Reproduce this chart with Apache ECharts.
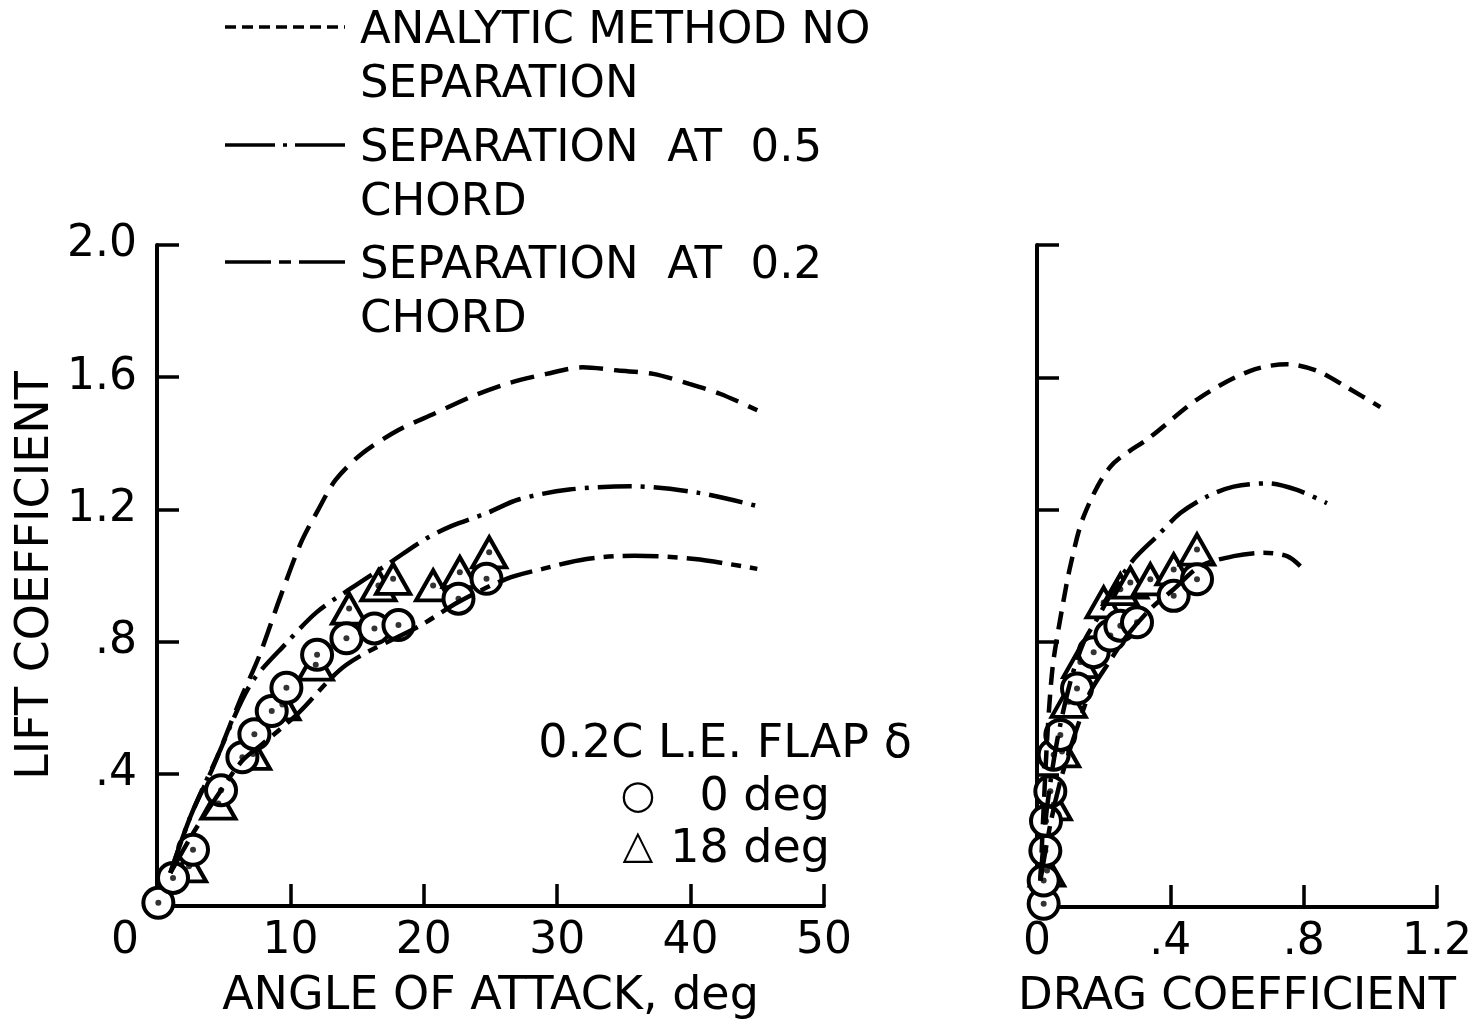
<!DOCTYPE html>
<html>
<head>
<meta charset="utf-8">
<script src="https://cdn.jsdelivr.net/npm/echarts@6/dist/echarts.min.js"></script>
<style>
  html, body { margin: 0; padding: 0; background: #fff; }
  #chart { width: 1475px; height: 1025px; }
</style>
</head>
<body>
<div id="chart"></div>
<script>
// lift coefficient vs angle of attack [alpha deg, CL]
var noSepAlpha = [[1.0, 0.1], [2.5, 0.27], [4.2, 0.42], [6.2, 0.62], [7.7, 0.76], [9.2, 0.93], [10.8, 1.10], [12.1, 1.20], [13.4, 1.29], [15.4, 1.37], [18.1, 1.44], [20.8, 1.49], [23.5, 1.54], [26.2, 1.58], [29.2, 1.61], [31.9, 1.63], [34.6, 1.62], [37.2, 1.61], [39.9, 1.58], [42.2, 1.55], [45, 1.50]];
var sep05Alpha = [[1.0, 0.1], [2.5, 0.27], [4.5, 0.45], [7.0, 0.67], [9.8, 0.80], [12.0, 0.89], [14.5, 0.96], [17.5, 1.04], [20.1, 1.11], [22.1, 1.15], [24.8, 1.19], [27.1, 1.23], [30.9, 1.26], [35.5, 1.27], [40.6, 1.25], [45, 1.21]];
var sep02Alpha = [[1.0, 0.1], [2.7, 0.22], [4.8, 0.35], [6.4, 0.44], [7.9, 0.49], [10.5, 0.58], [14.2, 0.73], [19.8, 0.85], [22.6, 0.92], [26.2, 0.99], [28.9, 1.02], [32.2, 1.05], [35.8, 1.06], [40.3, 1.05], [45, 1.02]];
var flap0Alpha = [[0.1, 0.01], [1.2, 0.085], [2.7, 0.17], [4.8, 0.35], [6.4, 0.45], [7.3, 0.52], [8.6, 0.59], [9.7, 0.66], [12.0, 0.76], [14.2, 0.81], [16.3, 0.84], [18.1, 0.85], [22.6, 0.93], [24.7, 0.99]];
var flap18Alpha = [[2.4, 0.12], [4.6, 0.31], [7.2, 0.46], [9.4, 0.61], [11.9, 0.73], [14.4, 0.90], [16.6, 0.97], [17.7, 0.99], [20.7, 0.97], [22.7, 1.01], [24.9, 1.07]];

// lift coefficient vs drag coefficient [CD, CL]
var noSepDrag = [[0.01, 0.08], [0.02, 0.3], [0.03, 0.5], [0.04, 0.65], [0.05, 0.75], [0.075, 0.90], [0.10, 1.03], [0.14, 1.18], [0.22, 1.33], [0.34, 1.42], [0.49, 1.54], [0.64, 1.62], [0.75, 1.64], [0.84, 1.62], [0.93, 1.57], [1.03, 1.51]];
var sep05Drag = [[0.01, 0.08], [0.03, 0.3], [0.06, 0.5], [0.10, 0.68], [0.14, 0.80], [0.18, 0.87], [0.23, 0.96], [0.29, 1.05], [0.36, 1.12], [0.43, 1.19], [0.51, 1.24], [0.59, 1.27], [0.69, 1.28], [0.78, 1.26], [0.87, 1.22]];
var sep02Drag = [[0.01, 0.08], [0.04, 0.25], [0.07, 0.38], [0.10, 0.48], [0.13, 0.57], [0.16, 0.65], [0.21, 0.73], [0.27, 0.82], [0.34, 0.90], [0.41, 0.96], [0.49, 1.03], [0.59, 1.06], [0.68, 1.07], [0.75, 1.06], [0.79, 1.03]];
var flap0Drag = [[0.02, 0.01], [0.02, 0.08], [0.025, 0.17], [0.027, 0.26], [0.04, 0.35], [0.05, 0.46], [0.07, 0.52], [0.12, 0.66], [0.17, 0.77], [0.22, 0.82], [0.25, 0.85], [0.30, 0.86], [0.41, 0.94], [0.48, 0.99]];
var flap18Drag = [[0.03, 0.11], [0.05, 0.31], [0.075, 0.47], [0.095, 0.62], [0.13, 0.74], [0.20, 0.92], [0.25, 0.96], [0.28, 0.98], [0.34, 0.99], [0.41, 1.02], [0.48, 1.08]];

var FONT = '"DejaVu Sans", "Liberation Sans", sans-serif';
var BLACK = '#000';

var dashNoSep = [24, 11];
var dashSep05 = [34, 9, 4, 9];
var dashSep02 = [36, 9, 10, 9];

function curve(name, data, gi, dash) {
  return {
    name: name, type: 'line', xAxisIndex: gi, yAxisIndex: gi,
    data: data, showSymbol: false, smooth: 0.3,
    lineStyle: { color: BLACK, width: 4.5, type: dash, cap: 'butt' }
  };
}
function marks(name, data, gi, symbol, size) {
  return {
    name: name, type: 'scatter', xAxisIndex: gi, yAxisIndex: gi,
    data: data, symbol: symbol, symbolSize: size,
    itemStyle: { color: '#fff', borderColor: BLACK, borderWidth: 4, opacity: 1 }
  };
}
function dots(data, gi) {
  return {
    type: 'scatter', xAxisIndex: gi, yAxisIndex: gi, data: data,
    symbol: 'circle', symbolSize: 6, itemStyle: { color: BLACK }, z: 5
  };
}
function liftLabel(v) {
  if (v === 0) return '';
  var s = v.toFixed(1);
  return v < 1 ? s.slice(1) : s;
}

var axisLine = { lineStyle: { color: BLACK, width: 4 } };
var axisTick = { inside: true, length: 22, lineStyle: { color: BLACK, width: 3.5 } };

var chart = echarts.init(document.getElementById('chart'));
chart.setOption({
  backgroundColor: '#fff',
  animation: false,
  textStyle: { fontFamily: FONT, color: BLACK },
  grid: [
    { left: 157, top: 245, width: 667, height: 665 },
    { left: 1037, top: 245, width: 402, height: 665 }
  ],
  xAxis: [
    {
      gridIndex: 0, type: 'value', min: 0, max: 50, interval: 10,
      axisLine: axisLine, axisTick: axisTick, splitLine: { show: false },
      axisLabel: {
        color: BLACK, fontSize: 44, fontFamily: FONT, margin: 14,
        formatter: function (v) { return v === 0 ? '{z|0}' : String(v); },
        rich: { z: { fontSize: 44, fontFamily: FONT, color: BLACK, padding: [0, 64, 0, 0] } }
      },
      name: 'ANGLE OF ATTACK, deg', nameLocation: 'middle', nameGap: 68,
      nameTextStyle: { fontSize: 46, fontFamily: FONT, color: BLACK }
    },
    {
      gridIndex: 1, type: 'value', min: 0, max: 1.2, interval: 0.4,
      axisLine: axisLine, axisTick: axisTick, splitLine: { show: false },
      axisLabel: {
        color: BLACK, fontSize: 44, fontFamily: FONT, margin: 14,
        formatter: function (v) { return v === 0 ? '0' : liftLabel(v); }
      },
      name: 'DRAG COEFFICIENT', nameLocation: 'middle', nameGap: 68,
      nameTextStyle: { fontSize: 45, fontFamily: FONT, color: BLACK }
    }
  ],
  yAxis: [
    {
      gridIndex: 0, type: 'value', min: 0, max: 2, interval: 0.4,
      axisLine: axisLine, axisTick: axisTick, splitLine: { show: false },
      axisLabel: { color: BLACK, fontSize: 44, fontFamily: FONT, margin: 20, formatter: liftLabel },
      name: 'LIFT COEFFICIENT', nameLocation: 'middle', nameGap: 98, nameRotate: 90,
      nameTextStyle: { fontSize: 46, fontFamily: FONT, color: BLACK }
    },
    {
      gridIndex: 1, type: 'value', min: 0, max: 2, interval: 0.4,
      axisLine: axisLine, axisTick: axisTick, splitLine: { show: false },
      axisLabel: { show: false }
    }
  ],
  graphic: [
    { type: 'line', shape: { x1: 225, y1: 27, x2: 345, y2: 27 }, style: { stroke: BLACK, lineWidth: 3.5, lineDash: [11, 6] } },
    { type: 'line', shape: { x1: 225, y1: 145, x2: 345, y2: 145 }, style: { stroke: BLACK, lineWidth: 3.5, lineDash: [50, 8, 4, 8] } },
    { type: 'line', shape: { x1: 225, y1: 262, x2: 345, y2: 262 }, style: { stroke: BLACK, lineWidth: 3.5, lineDash: [46, 8, 12, 8] } },
    { type: 'text', left: 360, top: 4, style: { text: 'ANALYTIC METHOD NO\nSEPARATION', font: '45px ' + FONT, lineHeight: 54, fill: BLACK } },
    { type: 'text', left: 360, top: 122, style: { text: 'SEPARATION  AT  0.5\nCHORD', font: '45px ' + FONT, lineHeight: 54, fill: BLACK } },
    { type: 'text', left: 360, top: 239, style: { text: 'SEPARATION  AT  0.2\nCHORD', font: '45px ' + FONT, lineHeight: 54, fill: BLACK } },
    { type: 'text', x: 725, y: 745, style: { text: '0.2C L.E. FLAP δ', font: '46px ' + FONT, fill: BLACK, textAlign: 'center', textVerticalAlign: 'middle' } },
    { type: 'text', x: 638, y: 798, style: { text: '○', font: '40px ' + FONT, fill: BLACK, textAlign: 'center', textVerticalAlign: 'middle' } },
    { type: 'text', x: 830, y: 798, style: { text: '0 deg', font: '46px ' + FONT, fill: BLACK, textAlign: 'right', textVerticalAlign: 'middle' } },
    { type: 'text', x: 638, y: 848, style: { text: '△', font: '40px ' + FONT, fill: BLACK, textAlign: 'center', textVerticalAlign: 'middle' } },
    { type: 'text', x: 830, y: 850, style: { text: '18 deg', font: '46px ' + FONT, fill: BLACK, textAlign: 'right', textVerticalAlign: 'middle' } }
  ],
  series: [
    curve('Analytic method no separation', noSepAlpha, 0, dashNoSep),
    curve('Separation at 0.5 chord', sep05Alpha, 0, dashSep05),
    curve('Separation at 0.2 chord', sep02Alpha, 0, dashSep02),
    marks('18 deg', flap18Alpha, 0, 'triangle', [34, 30]),
    marks('0 deg', flap0Alpha, 0, 'circle', 30),
    dots(flap18Alpha, 0),
    dots(flap0Alpha, 0),

    curve('Analytic method no separation', noSepDrag, 1, [18, 10]),
    curve('Separation at 0.5 chord', sep05Drag, 1, dashSep05),
    curve('Separation at 0.2 chord', sep02Drag, 1, dashSep02),
    marks('18 deg', flap18Drag, 1, 'triangle', [34, 30]),
    marks('0 deg', flap0Drag, 1, 'circle', 30),
    dots(flap18Drag, 1),
    dots(flap0Drag, 1)
  ]
});
</script>
</body>
</html>
